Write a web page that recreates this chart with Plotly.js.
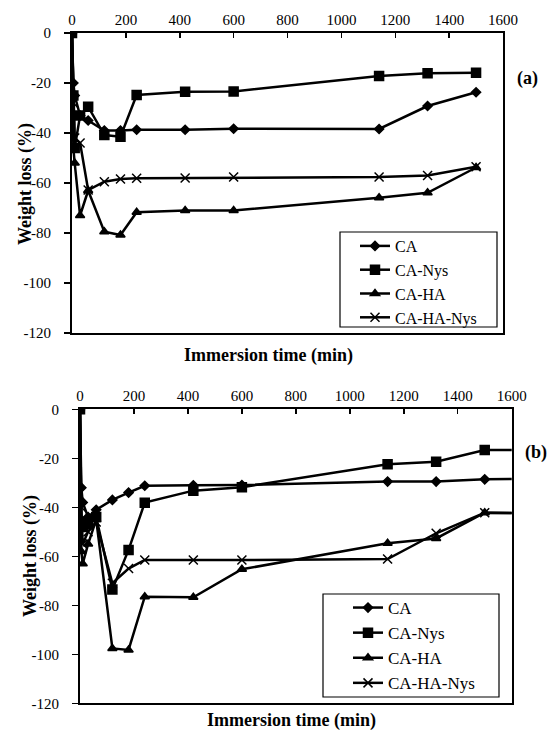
<!DOCTYPE html>
<html><head><meta charset="utf-8">
<script src="https://cdn.plot.ly/plotly-3.0.1.min.js"></script>
<style>html,body{margin:0;padding:0;background:#fff}#chart{width:548px;height:738px}</style>
</head><body><div id="chart"></div>
<script>
// Panel (a)
const timeA = [0, 5, 10, 30, 60, 120, 180, 240, 420, 600, 1140, 1320, 1500];
const caA = [0, -20, -25, -33, -35, -39, -39, -38.7, -38.7, -38.3, -38.4, -29.2, -23.7];
const caNysA = [0, -25, -46, -33, -29.5, -40.8, -41.5, -24.8, -23.5, -23.4, -17.2, -16.1, -15.9];
const caHaA = [0, -46, -52, -73, -63, -79.5, -80.8, -71.7, -71, -71, -65.9, -63.9, -53.8];
const caHaNysA = [0, -28, -42, -44, -62.8, -59.5, -58.4, -58.1, -58, -57.6, -57.6, -57, -53.5];
// Panel (b)
const timeB = [0, 5, 10, 30, 60, 120, 180, 240, 420, 600, 1140, 1320, 1500, 1700];
const caB = [0, -32, -38, -44, -41, -37, -34, -31.2, -31, -30.9, -29.5, -29.5, -28.6, -28.3];
const caNysB = [0, -46, -48, -47, -44, -73.5, -57.4, -38.1, -33.2, -31.8, -22.4, -21.4, -16.6, -16.6];
const caHaB = [0, -58, -63, -55, -45, -97.6, -98.2, -76.5, -76.7, -65.3, -54.7, -52.7, -42.2, -42.5];
const caHaNysB = [0, -40, -55, -50, -46, -71, -65, -61.5, -61.5, -61.5, -61.1, -50.6, -42.2, -42.4];
// Tick labels
const xTickVals = [0, 200, 400, 600, 800, 1000, 1200, 1400, 1600];
const xTickText = ['0', '200', '400', '600', '800', '1000', '1200', '1400', '1600'];
const yTickVals = [0, -20, -40, -60, -80, -100, -120];
const yTickText = ['0', '-20', '-40', '-60', '-80', '-100', '-120'];

const names = ['CA', 'CA-Nys', 'CA-HA', 'CA-HA-Nys'];
const symbols = ['diamond', 'square', 'triangle-up', 'x-thin-open'];
const sizes = [7, 9, 8, 9];
const serif = 'Liberation Serif, Times New Roman, serif';

function mk(x, y, i, xa, ya, leg) {
  return {x: x, y: y, name: names[i], type: 'scatter', mode: 'lines+markers',
    xaxis: xa, yaxis: ya, legend: leg,
    line: {color: '#000', width: 2.5},
    marker: {symbol: symbols[i], size: sizes[i], color: '#000', line: {color: '#000', width: 1.5}}};
}
const data = [
  mk(timeA, caA, 0, 'x', 'y', 'legend'), mk(timeA, caNysA, 1, 'x', 'y', 'legend'),
  mk(timeA, caHaA, 2, 'x', 'y', 'legend'), mk(timeA, caHaNysA, 3, 'x', 'y', 'legend'),
  mk(timeB, caB, 0, 'x2', 'y2', 'legend2'), mk(timeB, caNysB, 1, 'x2', 'y2', 'legend2'),
  mk(timeB, caHaB, 2, 'x2', 'y2', 'legend2'), mk(timeB, caHaNysB, 3, 'x2', 'y2', 'legend2')
];

const xax = (dom, anchor) => ({domain: dom, anchor: anchor, side: 'top', range: [0, 1600],
  tickmode: 'array', tickvals: xTickVals, ticktext: xTickText,
  showgrid: false, zeroline: false, showline: true, linecolor: '#000', linewidth: 2, mirror: true,
  ticks: 'inside', ticklen: 5, tickcolor: '#000', tickwidth: 1.5,
  tickfont: {family: serif, size: 15, color: '#000'}});
const yax = (dom, anchor) => ({domain: dom, anchor: anchor, range: [-120, 0],
  tickmode: 'array', tickvals: yTickVals, ticktext: yTickText,
  showgrid: false, zeroline: false, showline: true, linecolor: '#000', linewidth: 2, mirror: true,
  ticks: 'outside', ticklen: 6, tickcolor: '#000', tickwidth: 1.5, ticklabelstandoff: 10,
  tickfont: {family: serif, size: 15, color: '#000'}});

const legStyle = (fs) => ({bgcolor: 'rgba(0,0,0,0)', borderwidth: 0,
  font: {family: serif, size: fs, color: '#000'}, xanchor: 'left', yanchor: 'top', itemwidth: 30, tracegroupgap: 0});

const px = v => v / 548, py = v => 1 - v / 738;
const tfont = {family: serif, size: 18, color: '#000'};
const layout = {
  width: 548, height: 738, margin: {l: 0, r: 0, t: 0, b: 0},
  paper_bgcolor: '#fff', plot_bgcolor: '#fff',
  xaxis: xax([px(72), px(503)], 'y'),
  yaxis: yax([py(333), py(33)], 'x'),
  xaxis2: xax([px(80), px(511.7)], 'y2'),
  yaxis2: yax([py(703.3), py(409.3)], 'x2'),
  legend: Object.assign({x: px(355), y: py(229)}, legStyle(16)),
  legend2: Object.assign({x: px(348), y: py(590)}, legStyle(17)),
  shapes: [
    {type: 'rect', xref: 'paper', yref: 'paper', x0: px(340), x1: px(497), y0: py(327), y1: py(232), line: {color: '#000', width: 1.2}, fillcolor: 'rgba(0,0,0,0)'},
    {type: 'rect', xref: 'paper', yref: 'paper', x0: px(323), x1: px(499), y0: py(697), y1: py(594), line: {color: '#000', width: 1.2}, fillcolor: 'rgba(0,0,0,0)'}
  ],
  annotations: [
    {text: '<b>(a)</b>', x: px(527), y: py(78), xanchor: 'center', yanchor: 'middle', xref: 'paper', yref: 'paper', showarrow: false, font: tfont},
    {text: '<b>(b)</b>', x: px(536), y: py(452), xanchor: 'center', yanchor: 'middle', xref: 'paper', yref: 'paper', showarrow: false, font: tfont},
    {text: '<b>Immersion time (min)</b>', x: px(268), y: py(356), xanchor: 'center', yanchor: 'middle', xref: 'paper', yref: 'paper', showarrow: false, font: tfont},
    {text: '<b>Immersion time (min)</b>', x: px(291), y: py(720), xanchor: 'center', yanchor: 'middle', xref: 'paper', yref: 'paper', showarrow: false, font: tfont},
    {text: '<b>Weight loss (%)</b>', x: px(25), y: py(184), xanchor: 'center', yanchor: 'middle', xref: 'paper', yref: 'paper', showarrow: false, textangle: -90, font: tfont},
    {text: '<b>Weight loss (%)</b>', x: px(30), y: py(556), xanchor: 'center', yanchor: 'middle', xref: 'paper', yref: 'paper', showarrow: false, textangle: -90, font: tfont}
  ]
};
Plotly.newPlot('chart', data, layout, {displayModeBar: false, staticPlot: true});
</script></body></html>
